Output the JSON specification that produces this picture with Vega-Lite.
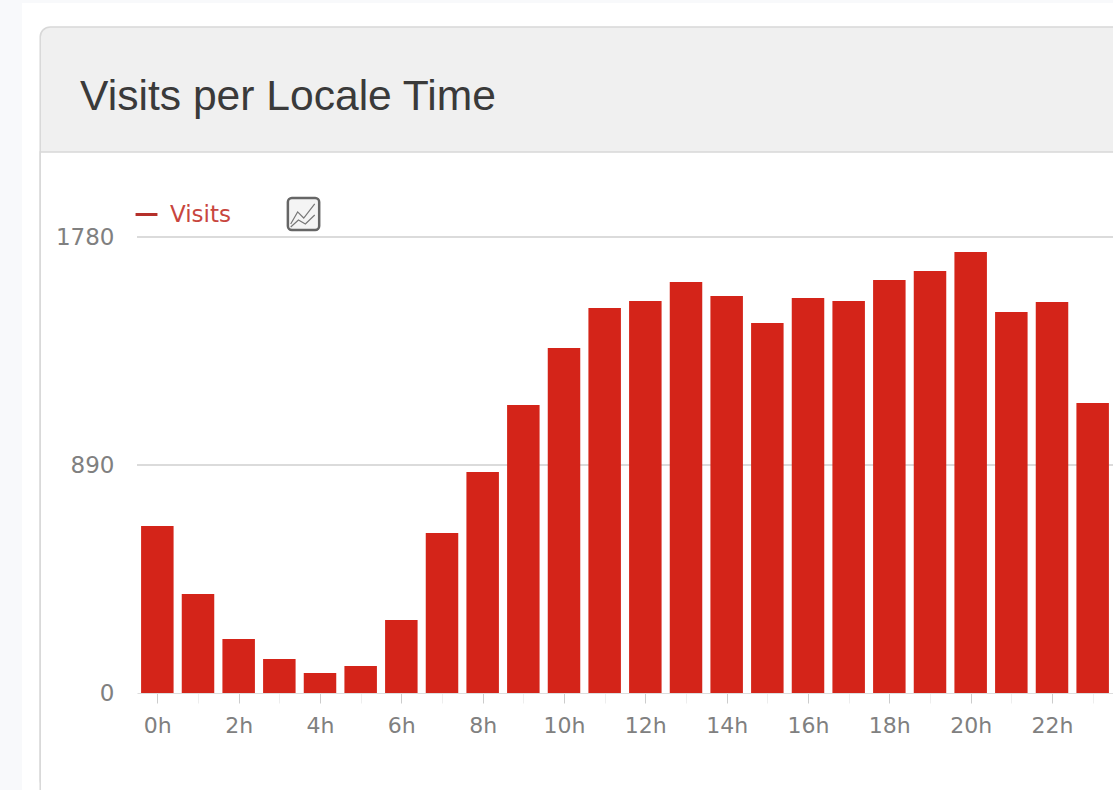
{
 "$schema":"https://vega.github.io/schema/vega-lite/v6.json",
 "width":976,"height":456,
 "autosize":"none",
 "padding":{"left":137,"top":237,"right":0,"bottom":97},
 "background":"#f8f9fb",
 "config":{"view":{"stroke":null}},
 "datasets":{
  "visits":[
   {"hour":0,"series":"Visits","visits":652},{"hour":1,"series":"Visits","visits":386},{"hour":2,"series":"Visits","visits":211},{"hour":3,"series":"Visits","visits":133},{"hour":4,"series":"Visits","visits":78},{"hour":5,"series":"Visits","visits":105},{"hour":6,"series":"Visits","visits":285},{"hour":7,"series":"Visits","visits":625},{"hour":8,"series":"Visits","visits":863},{"hour":9,"series":"Visits","visits":1124},{"hour":10,"series":"Visits","visits":1347},{"hour":11,"series":"Visits","visits":1503},{"hour":12,"series":"Visits","visits":1530},{"hour":13,"series":"Visits","visits":1604},{"hour":14,"series":"Visits","visits":1550},{"hour":15,"series":"Visits","visits":1444},{"hour":16,"series":"Visits","visits":1542},{"hour":17,"series":"Visits","visits":1530},{"hour":18,"series":"Visits","visits":1612},{"hour":19,"series":"Visits","visits":1647},{"hour":20,"series":"Visits","visits":1721},{"hour":21,"series":"Visits","visits":1487},{"hour":22,"series":"Visits","visits":1526},{"hour":23,"series":"Visits","visits":1132}
  ]
 },
 "layer":[
  {"data":{"values":[{"a":-3.33,"b":24,"lo":-379,"hi":2693}]},
   "mark":{"type":"rect","fill":"#ffffff"},
   "encoding":{"x":{"field":"a","type":"quantitative","scale":{"domain":[-0.5,23.5],"nice":false,"zero":false,"padding":0},"axis":{"values":[0,1,2,3,4,5,6,7,8,9,10,11,12,13,14,15,16,17,18,19,20,21,22,23],"labelExpr":"datum.value % 2 == 0 ? datum.value + 'h' : ''","labelOverlap":false,"title":null,"grid":false,"zindex":1,"domainColor":"#dddddd","tickColor":{"expr":"datum.value % 2 == 0 ? '#cccccc' : '#eeeeee'"},"tickSize":10,"labelColor":"#808080","labelFont":"DejaVu Sans","labelFontSize":22,"labelPadding":12,"labelFlush":false}},"x2":{"field":"b"},"y":{"field":"lo","type":"quantitative","scale":{"domain":[0,1780],"nice":false},"axis":{"values":[0,890,1780],"format":"d","title":null,"grid":false,"zindex":1,"domain":false,"ticks":false,"labelColor":"#808080","labelFont":"DejaVu Sans","labelFontSize":23,"labelPadding":23}},"y2":{"field":"hi"}}},
  {"data":{"values":[{"a":-2.88,"b":24,"lo":-379,"hi":2600}]},
   "mark":{"type":"rect","fill":"#f0f0f0","stroke":"#d8d8d8","strokeWidth":1.5,"cornerRadius":10},
   "encoding":{"x":{"field":"a","type":"quantitative"},"x2":{"field":"b"},"y":{"field":"lo","type":"quantitative"},"y2":{"field":"hi"}}},
  {"data":{"values":[{"a":-2.88,"b":24,"lo":-500,"hi":2112}]},
   "mark":{"type":"rect","fill":"#ffffff","stroke":"#d8d8d8","strokeWidth":1.5},
   "encoding":{"x":{"field":"a","type":"quantitative"},"x2":{"field":"b"},"y":{"field":"lo","type":"quantitative"},"y2":{"field":"hi"}}},
  {"data":{"values":[{"label":"Visits per Locale Time","px":-1.9,"py":2276}]},
   "mark":{"type":"text","align":"left","baseline":"alphabetic","font":"Liberation Sans","fontSize":42.6,"color":"#3a3a3a"},
   "encoding":{"x":{"field":"px","type":"quantitative"},"y":{"field":"py","type":"quantitative"},"text":{"field":"label"}}},
  {"data":{"values":[{"v":890},{"v":1780}]},
   "mark":{"type":"rule","color":"#cfcfcf","strokeWidth":1.5},
   "encoding":{"y":{"field":"v","type":"quantitative"}}},
  {"data":{"name":"visits"},
   "mark":{"type":"bar","width":32.5},
   "encoding":{"x":{"field":"hour","type":"quantitative"},"y":{"field":"visits","type":"quantitative"},
    "color":{"field":"series","type":"nominal","scale":{"domain":["Visits"],"range":["#d42419"]},
     "legend":{"title":null,"orient":"none","legendX":-3,"legendY":-35,"symbolType":"stroke","symbolStrokeColor":"#b5302a","symbolStrokeWidth":3,"symbolSize":480,"labelColor":"#c8463e","labelFont":"DejaVu Sans","labelFontSize":23,"labelOffset":11}}}},
  {"data":{"values":[{"a":3.21,"b":3.98,"lo":1807,"hi":1932}]},
   "mark":{"type":"rect","fill":"#f4f4f4","stroke":"#666666","strokeWidth":2.5,"cornerRadius":4},
   "encoding":{"x":{"field":"a","type":"quantitative"},"x2":{"field":"b"},"y":{"field":"lo","type":"quantitative"},"y2":{"field":"hi"}}},
  {"data":{"values":[
    {"k":"a","px":3.28,"py":1831},{"k":"a","px":3.45,"py":1878},{"k":"a","px":3.60,"py":1854},{"k":"a","px":3.87,"py":1909},
    {"k":"b","px":3.28,"py":1819},{"k":"b","px":3.47,"py":1846},{"k":"b","px":3.64,"py":1831},{"k":"b","px":3.87,"py":1866}]},
   "mark":{"type":"line","color":"#777777","strokeWidth":1.2},
   "encoding":{"x":{"field":"px","type":"quantitative"},"y":{"field":"py","type":"quantitative"},"detail":{"field":"k"}}}
 ]
}
